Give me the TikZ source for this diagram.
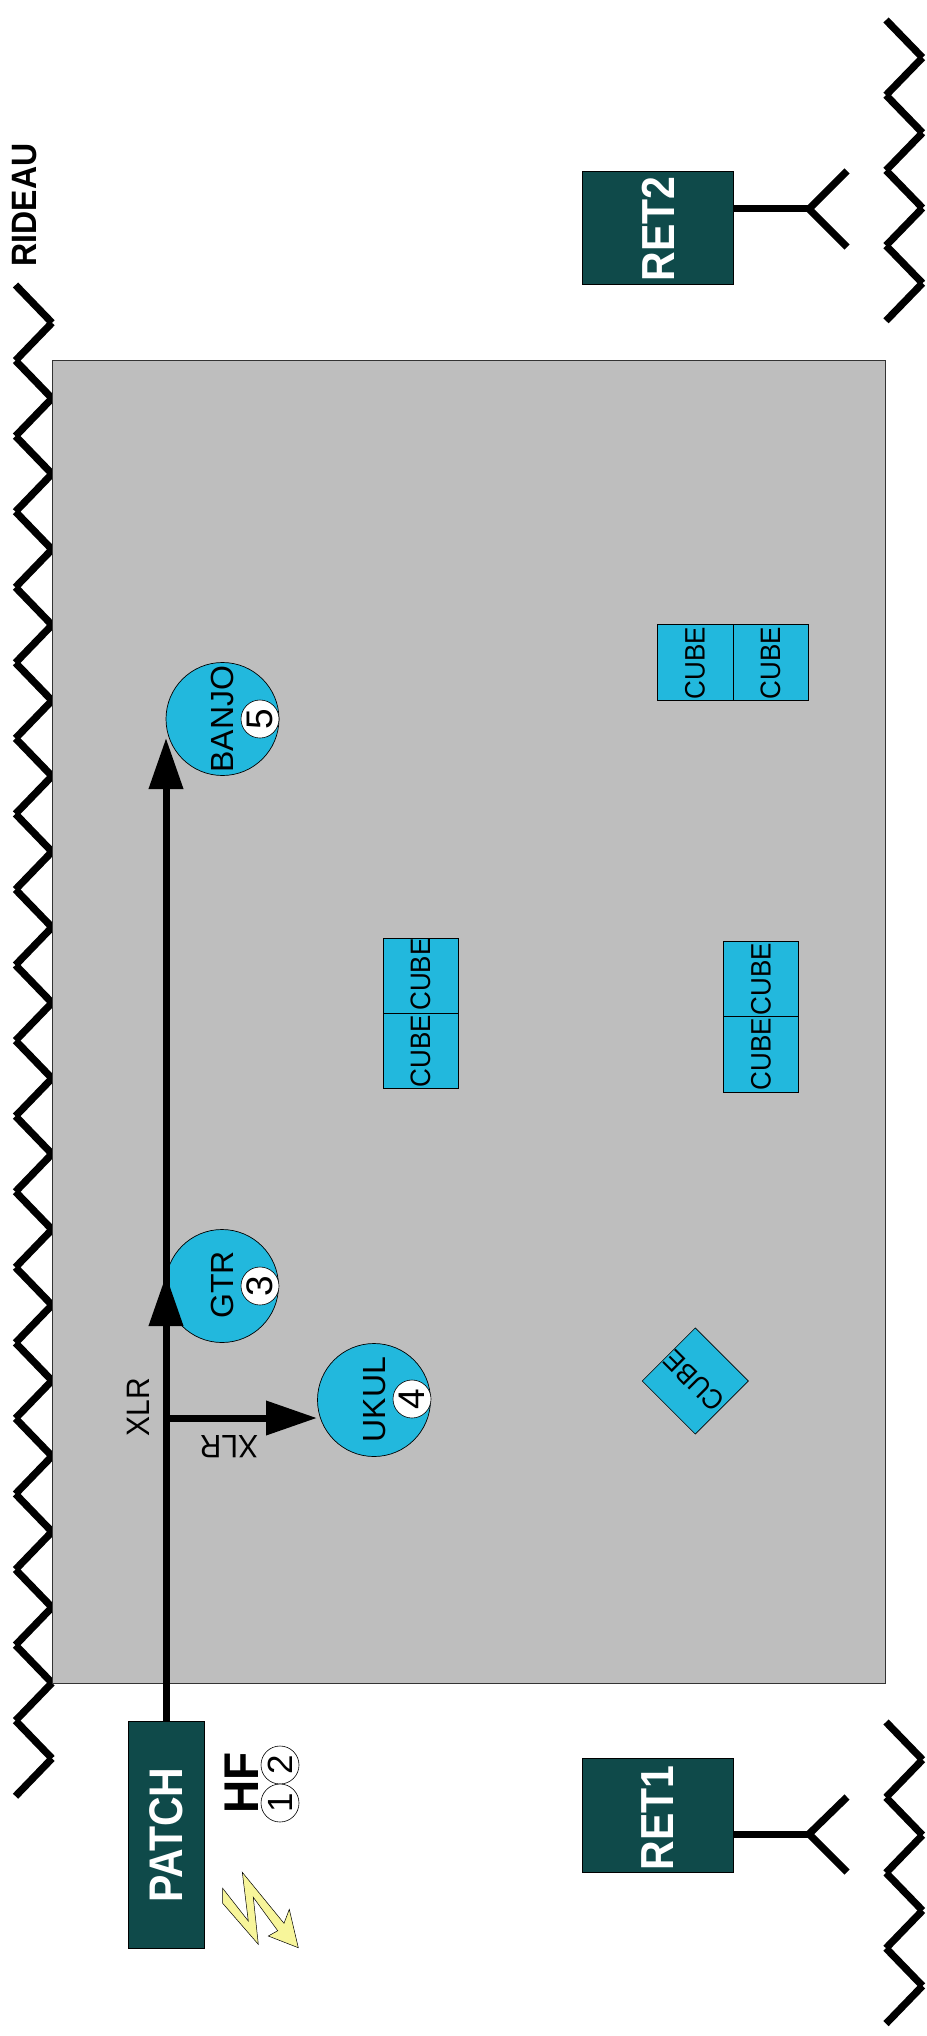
\documentclass[tikz,border=0pt]{standalone}
\usepackage{fontspec}
\usepackage{graphicx}
\setmainfont{Liberation Sans}
\definecolor{teal1}{HTML}{0F4A4A}
\definecolor{cyan1}{HTML}{22B8DD}
\definecolor{gray1}{HTML}{BEBEBE}
\definecolor{yellow1}{HTML}{F7F59A}
\usetikzlibrary{arrows.meta}
\newcommand{\tallbox}[2]{\scalebox{1}[#1]{#2}}
\newcommand{\cubeword}{\tallbox{1.08}{CUBE}}
\tikzset{
  zig/.style={line width=7.3pt},
  wire/.style={line width=7pt},
  tipwire/.style={line width=7pt,-{Triangle[length=51pt,width=33pt]}},
  box/.style={draw=black,line width=0.7pt,fill=teal1,inner sep=0pt},
  boxtext/.style={text=white,font=\bfseries\fontsize{41}{41}\selectfont,rotate=90,inner sep=0pt},
  inst/.style={circle,draw=black,line width=0.7pt,fill=cyan1,minimum size=113pt,inner sep=0pt},
  num/.style={circle,draw=black,line width=0.6pt,fill=white,minimum size=38pt,inner sep=0pt,font=\fontsize{37}{37}\selectfont,rotate=90},
  numsmall/.style={circle,draw=black,line width=0.6pt,fill=white,minimum size=38pt,inner sep=0pt,font=\fontsize{35}{35}\selectfont,rotate=90},
  lab/.style={font=\fontsize{32}{32}\selectfont,rotate=90,inner sep=0pt},
  xlrtext/.style={font=\fontsize{30}{30}\selectfont,inner sep=0pt},
  cubebox/.style={draw=black,line width=0.6pt,fill=cyan1,inner sep=0pt},
  cubetext/.style={font=\fontsize{26}{26}\selectfont,rotate=90,inner sep=0pt},
}
\begin{document}
\begin{tikzpicture}[x=1pt,y=-1pt]
\useasboundingbox (0,0) rectangle (926,2036);
% curtain left
\foreach \i in {0,...,39}{
  \pgfmathsetmacro\ya{285+37.78*\i}
  \pgfmathsetmacro\yb{285+37.78*(\i+1)}
  \pgfmathparse{mod(\i,2)==0?1:0}
  \ifnum\pgfmathresult=1
    \draw[zig] (15.5,\ya) -- (52,\yb);
  \else
    \draw[zig] (52,\ya) -- (15.5,\yb);
  \fi
}
% curtain right top
\foreach \i in {0,...,7}{
  \pgfmathsetmacro\ya{20+37.6*\i}
  \pgfmathsetmacro\yb{20+37.6*(\i+1)}
  \pgfmathparse{mod(\i,2)==0?1:0}
  \ifnum\pgfmathresult=1
    \draw[zig] (886,\ya) -- (922.5,\yb);
  \else
    \draw[zig] (922.5,\ya) -- (886,\yb);
  \fi
}
% curtain right bottom
\foreach \i in {0,...,7}{
  \pgfmathsetmacro\ya{1722+37.7*\i}
  \pgfmathsetmacro\yb{1722+37.7*(\i+1)}
  \pgfmathparse{mod(\i,2)==0?1:0}
  \ifnum\pgfmathresult=1
    \draw[zig] (886,\ya) -- (922.5,\yb);
  \else
    \draw[zig] (922.5,\ya) -- (886,\yb);
  \fi
}
\node[rotate=90,inner sep=0pt,font=\bfseries\fontsize{32}{32}\selectfont] (rideau) at (24.5,205) {\tallbox{1.1}{RIDEAU}};
% stage
\fill[gray1] (52,360) rectangle (885,1683);
\draw[line width=0.7pt,black!80] (52,360) rectangle (885,1683);
% cubes pair A
\node[cubebox,minimum width=76pt,minimum height=76pt] (a1) at (695,662) {};
\node[cubebox,minimum width=75pt,minimum height=76pt] (a2) at (770.5,662) {};
\node[cubetext] (ta1) at (695,663) {\cubeword};
\node[cubetext] (ta2) at (770.5,663) {\cubeword};
% cubes pair B
\node[cubebox,minimum width=75pt,minimum height=75pt] (b1) at (420.5,975.5) {};
\node[cubebox,minimum width=75pt,minimum height=75pt] (b2) at (420.5,1050.5) {};
\node[cubetext] (tb1) at (420.5,974.5) {\cubeword};
\node[cubetext] (tb2) at (420.5,1051) {\cubeword};
% cubes pair C
\node[cubebox,minimum width=75pt,minimum height=75pt] (c1) at (760.5,978.5) {};
\node[cubebox,minimum width=75pt,minimum height=76pt] (c2) at (760.5,1054) {};
\node[cubetext] (tc1) at (761,979) {\cubeword};
\node[cubetext] (tc2) at (761,1054) {\cubeword};
% diamond cube
\node[cubebox,minimum size=75pt,rotate=45] (d) at (695.3,1381) {};
\node[font=\fontsize{26}{26}\selectfont,rotate=135,inner sep=0pt] (td) at (694,1381) {\cubeword};
% instruments
\node[inst] (gtr) at (222,1286) {};
\node[num] (n3) at (260,1286) {3};
\node[lab] (tg) at (222,1285) {GTR};
\node[inst] (ukul) at (374,1400) {};
\node[num] (n4) at (412,1399) {4};
\node[lab] (tu) at (374.5,1399.5) {UKUL};
\node[inst] (banjo) at (222.5,719) {};
\node[num] (n5) at (260,719) {5};
\node[lab] (tb) at (222.5,719) {BANJO};
% patch
\node[box,minimum width=76pt,minimum height=227pt] (patch) at (166,1834.5) {};
\node[boxtext] (tp) at (166,1835) {\tallbox{1.15}{PATCH}};
% HF
\node[rotate=90,inner sep=0pt,font=\bfseries\fontsize{46}{46}\selectfont] (hf) at (241.5,1783) {\tallbox{1.06}{HF}};
\node[numsmall] (h2) at (280,1765) {2};
\node[numsmall] (h1) at (280,1803) {1};
% lightning
\draw[black,line width=0.5pt,fill=yellow1] (242.3,1872.3) -- (284,1923.3) -- (289.3,1909.3) -- (298.3,1947.7) -- (268.3,1936) -- (277.7,1930.7) -- (253.3,1897.3) -- (258.3,1944.3) -- (222.7,1903.3) -- (222.7,1888.3) -- (248.3,1921) -- cycle;
% wires
\coordinate (t1) at (166,1275);
\coordinate (t2) at (166,738);
\coordinate (j) at (166,1418);
\coordinate (t3) at (317,1418);
\draw[tipwire] (patch.north -| t2) -- (t2);
\draw[tipwire] (j) -- (t1);
\draw[tipwire] (j) -- (t3);
\node[rotate=90,xlrtext] (x1) at (138,1407) {\tallbox{1.08}{XLR}};
\node[rotate=180,xlrtext] (x2) at (229,1447) {\tallbox{1.08}{XLR}};
% returns
\node[box,minimum width=151pt,minimum height=114pt] (ret1) at (657.5,1815) {};
\node[boxtext] (tr1) at (658,1818) {\tallbox{1.13}{RET1}};
\coordinate (y1) at (809,1834);
\draw[wire] (ret1.east |- y1) -- (y1);
\draw[zig] (847,1797) -- (y1) -- (847,1872);
\node[box,minimum width=151pt,minimum height=113pt] (ret2) at (657.5,227.5) {};
\node[boxtext] (tr2) at (658,229) {\tallbox{1.13}{RET2}};
\coordinate (y2) at (809,209);
\draw[wire] (ret2.east |- y2) -- (y2);
\draw[zig] (847,171) -- (y2) -- (847,247);
\end{tikzpicture}
\end{document}
